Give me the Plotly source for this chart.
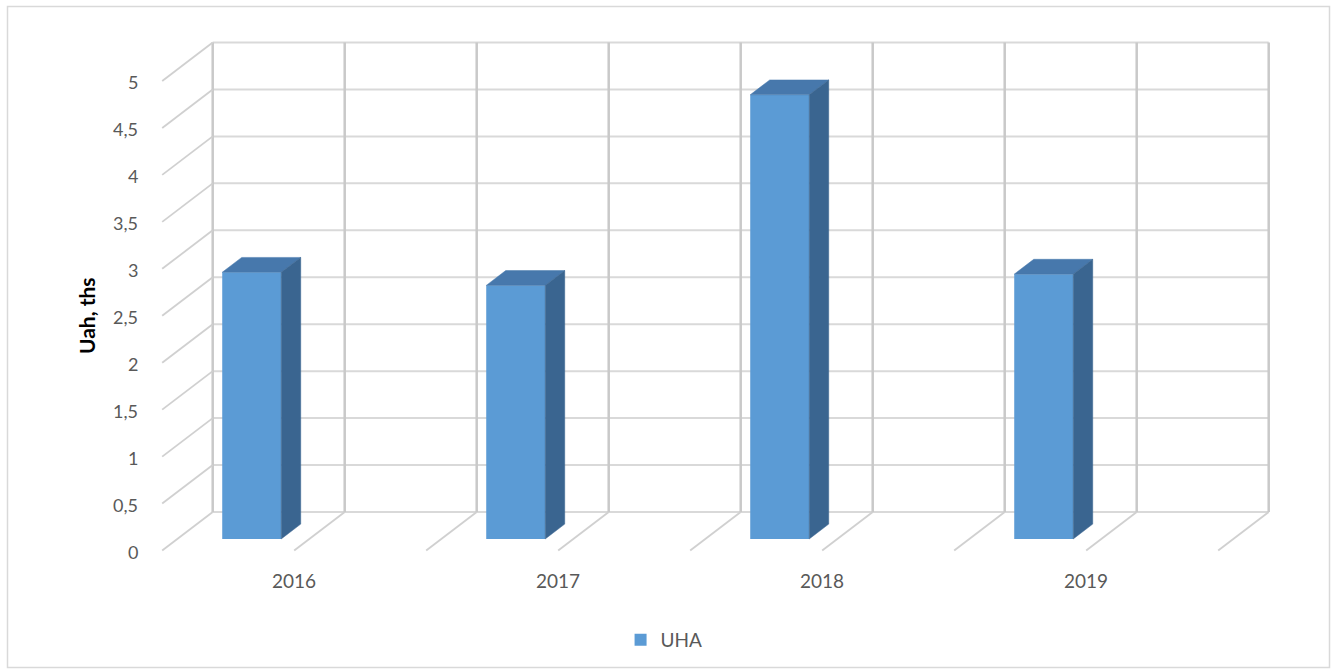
import plotly.graph_objects as go

# ---- data ----
years = ["2016", "2017", "2018", "2019"]
values = [2.84, 2.70, 4.73, 2.82]
series_name = "UHA"
y_ticks = [0, 0.5, 1, 1.5, 2, 2.5, 3, 3.5, 4, 4.5, 5]
y_tick_labels = ["0", "0,5", "1", "1,5", "2", "2,5", "3", "3,5", "4", "4,5", "5"]
y_title = "Uah, ths"

# ---- oblique 3D projection ----
W, H = 1336, 672
PX_PER_U = 264.0      # pixels per category on the back wall
PX_PER_V = 93.9       # pixels per value unit
ORIGIN_X = 212.7      # back-wall origin (pixels)
ORIGIN_Y = 512.0
DEPTH_PX_X = 50.5     # horizontal shift from front to back
DEPTH_PX_Y = 38.5     # vertical shift from front to back
DX = DEPTH_PX_X / PX_PER_U
DY = DEPTH_PX_Y / PX_PER_V

# bar geometry inside each category (in category / depth units)
BAR_U0 = 0.170
BAR_W = 0.2235
D_FRONT = 0.30
D_BACK = 0.686

FRONT_COLOR = "#5B9BD5"
TOP_COLOR = "#4778AC"
SIDE_COLOR = "#3A6590"
GRID_H = "#D9D9D9"
GRID_V = "#C9C9C9"
GRID_D = "#D0D0D0"
TEXT = "#595959"
FONT = "Lato"


def proj(u, v, d):
    """Project (category, value, depth) -> axis coordinates; depth 1 = back wall."""
    return u - (1 - d) * DX, v - (1 - d) * DY


fig = go.Figure()


def add_line(p0, p1, color, width):
    x0, y0 = proj(*p0)
    x1, y1 = proj(*p1)
    fig.add_shape(type="line", xref="x", yref="y", x0=x0, y0=y0, x1=x1, y1=y1,
                  line=dict(color=color, width=width), layer="below")


def add_poly(points, color):
    xs, ys = zip(*[proj(*p) for p in points])
    fig.add_trace(go.Scatter(x=list(xs) + [xs[0]], y=list(ys) + [ys[0]],
                             mode="lines", fill="toself", fillcolor=color,
                             line=dict(color=color, width=0.5),
                             hoverinfo="skip", showlegend=False))


n = len(years)
v_max = y_ticks[-1]
u_lines = [k * 0.5 for k in range(2 * n + 1)]

# back wall horizontal gridlines
for v in y_ticks:
    add_line((0, v, 1), (n, v, 1), GRID_H, 2)
# back wall vertical gridlines
for u in u_lines:
    add_line((u, 0, 1), (u, v_max, 1), GRID_V, 2.5)
# side wall depth lines
for v in y_ticks:
    add_line((0, v, 0), (0, v, 1), GRID_D, 1.8)
# floor depth lines
for u in u_lines[1:]:
    add_line((u, 0, 0), (u, 0, 1), GRID_D, 1.8)

# bars: front faces through the bar trace, top and side faces as polygons
front_x = []
for i, val in enumerate(values):
    u0 = i + BAR_U0
    u1 = u0 + BAR_W
    front_x.append(proj(u0 + BAR_W / 2, 0, D_FRONT)[0])
    add_poly([(u0, val, D_FRONT), (u1, val, D_FRONT), (u1, val, D_BACK), (u0, val, D_BACK)], TOP_COLOR)
    add_poly([(u1, 0, D_FRONT), (u1, val, D_FRONT), (u1, val, D_BACK), (u1, 0, D_BACK)], SIDE_COLOR)

base = proj(0, 0, D_FRONT)[1]
fig.add_trace(go.Bar(x=front_x, y=values, base=[base] * n, width=BAR_W,
                     marker=dict(color=FRONT_COLOR, line=dict(width=0)),
                     name=series_name, showlegend=True, hoverinfo="skip"))

# value axis labels on the front edge
for v, lab in zip(y_ticks, y_tick_labels):
    x, y = proj(0, v, 0)
    fig.add_annotation(x=x, y=y, text=lab, showarrow=False, xanchor="right",
                       yanchor="middle", xshift=-22, yshift=-1,
                       font=dict(family=FONT, size=18, color=TEXT))

# category labels
for i, yr in enumerate(years):
    x, y = proj(i + 0.5, 0, 0)
    fig.add_annotation(x=x, y=y, text=yr, showarrow=False, xanchor="center",
                       yanchor="middle", yshift=-30,
                       font=dict(family=FONT, size=19, color=TEXT))

# axis title, centred on the front value axis
x_t, y_lo = proj(0, 0, 0)
_, y_hi = proj(0, v_max, 0)
fig.add_annotation(x=x_t, y=(y_lo + y_hi) / 2, text="<b>" + y_title + "</b>",
                   showarrow=False, textangle=-90, xanchor="center",
                   yanchor="middle", xshift=-75,
                   font=dict(family=FONT, size=21, color="#000000"))

# chart frame
fig.add_shape(type="rect", xref="paper", yref="paper",
              x0=7.5 / W, x1=1329.5 / W, y0=1 - 667.5 / H, y1=1 - 6.5 / H,
              line=dict(color="#D9D9D9", width=1.5), fillcolor="rgba(0,0,0,0)",
              layer="below")

fig.update_layout(
    width=W, height=H, autosize=False,
    margin=dict(l=0, r=0, t=0, b=0),
    paper_bgcolor="white", plot_bgcolor="white",
    xaxis=dict(range=[-ORIGIN_X / PX_PER_U, (W - ORIGIN_X) / PX_PER_U],
               visible=False, fixedrange=True),
    yaxis=dict(range=[-(H - ORIGIN_Y) / PX_PER_V, ORIGIN_Y / PX_PER_V],
               visible=False, fixedrange=True),
    showlegend=True,
    legend=dict(orientation="h", x=0.4645, y=1 - 640 / H, xanchor="left",
                yanchor="middle", font=dict(family=FONT, size=19, color=TEXT),
                bgcolor="rgba(0,0,0,0)"),
)

fig.write_html("out.html")
